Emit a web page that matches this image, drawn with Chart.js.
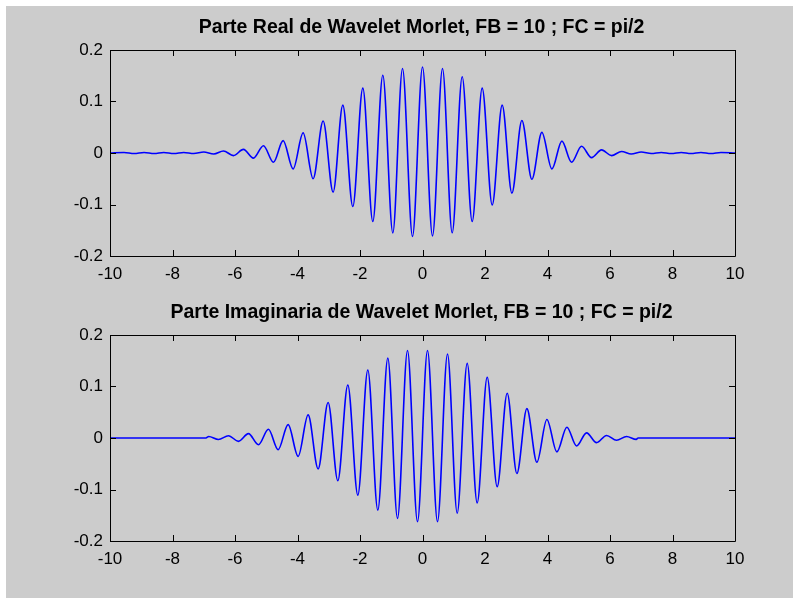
<!DOCTYPE html>
<html>
<head>
<meta charset="utf-8">
<script src="https://cdn.jsdelivr.net/npm/chart.js@4.4.1/dist/chart.umd.min.js"></script>
<style>
    body { margin: 0; background: #ffffff; }
    #figure { position: absolute; left: 6px; top: 6px; width: 787px; height: 592px; background: #cccccc; }
    canvas { position: absolute; left: 0; }
    #real-part { top: 0; }
    #imag-part { top: 285px; }
</style>
</head>
<body>
<div id="figure"></div>
<canvas id="real-part" width="793" height="300"></canvas>
<canvas id="imag-part" width="793" height="300"></canvas>
<script>
// values: extrema of each curve
const realX = [-10, -9.55, -9.23, -8.91, -8.59, -8.28, -7.96, -7.64, -7.32, -7.00, -6.68,
    -6.37, -6.05, -5.73, -5.41, -5.09, -4.77, -4.46, -4.14, -3.82, -3.50,
    -3.18, -2.86, -2.55, -2.23, -1.91, -1.59, -1.27, -0.95, -0.64, -0.32, 0,
    0.32, 0.64, 0.95, 1.27, 1.59, 1.91, 2.23, 2.55, 2.86, 3.18,
    3.50, 3.82, 4.14, 4.46, 4.77, 5.09, 5.41, 5.73, 6.05, 6.37,
    6.68, 7.00, 7.32, 7.64, 7.96, 8.28, 8.59, 8.91, 9.23, 9.55, 10];
const realY = [0, 0.001, -0.001, 0.001, -0.001, 0.001, -0.001, 0.001, -0.001, 0.002, -0.002,
    0.004, -0.005, 0.007, -0.010, 0.014, -0.018, 0.024, -0.031, 0.039, -0.050,
    0.062, -0.076, 0.093, -0.104, 0.126, -0.133, 0.151, -0.155, 0.164, -0.162, 0.167,
    -0.161, 0.164, -0.155, 0.148, -0.133, 0.126, -0.101, 0.093, -0.078, 0.063,
    -0.051, 0.040, -0.031, 0.023, -0.018, 0.013, -0.009, 0.006, -0.005, 0.003,
    -0.002, 0.002, -0.001, 0.001, -0.001, 0.001, -0.001, 0.001, -0.001, 0.001, 0];

const imagX = [-10, -6.93, -6.84, -6.53, -6.21, -5.89, -5.57, -5.25, -4.93, -4.62, -4.30,
    -3.98, -3.66, -3.34, -3.02, -2.71, -2.39, -2.07, -1.75, -1.43, -1.11, -0.80, -0.48, -0.16,
    0.16, 0.48, 0.80, 1.11, 1.43, 1.75, 2.07, 2.39, 2.71, 3.02, 3.34,
    3.66, 3.98, 4.30, 4.62, 4.93, 5.25, 5.57, 5.89, 6.21, 6.53, 6.84, 6.90, 10];
const imagY = [0, 0, 0.003, -0.003, 0.0045, -0.0065, 0.0084, -0.013, 0.017, -0.0227, 0.026,
    -0.0356, 0.045, -0.060, 0.069, -0.083, 0.103, -0.111, 0.132, -0.140, 0.155, -0.156, 0.170, -0.1625,
    0.170, -0.1625, 0.163, -0.146, 0.145, -0.126, 0.118, -0.0945, 0.087, -0.069, 0.057,
    -0.047, 0.036, -0.027, 0.021, -0.0155, 0.010, -0.009, 0.005, -0.0045, 0.003, -0.0026, 0, 0];

const xTicks = [-10, -8, -6, -4, -2, 0, 2, 4, 6, 8, 10];
const yTicks = [-0.2, -0.1, 0, 0.1, 0.2];

const realTitle = 'Parte Real de Wavelet Morlet, FB = 10 ; FC = pi/2';
const imagTitle = 'Parte Imaginaria de Wavelet Morlet, FB = 10 ; FC = pi/2';

// matlab style box with inward ticks on all four sides
const matlabAxes = {
    id: 'matlabAxes',
    afterDraw(chart) {
        const ctx = chart.ctx;
        const a = chart.chartArea;
        const x = chart.scales.x;
        const y = chart.scales.y;
        const len = 6;
        ctx.save();
        ctx.strokeStyle = '#000000';
        ctx.lineWidth = 1;
        ctx.beginPath();
        ctx.rect(Math.round(a.left) + 0.5, Math.round(a.top) + 0.5,
            Math.round(a.right - a.left), Math.round(a.bottom - a.top));
        x.ticks.forEach(t => {
            const px = Math.round(x.getPixelForValue(t.value)) + 0.5;
            ctx.moveTo(px, a.bottom);
            ctx.lineTo(px, a.bottom - len);
            ctx.moveTo(px, a.top);
            ctx.lineTo(px, a.top + len);
        });
        y.ticks.forEach(t => {
            const py = Math.round(y.getPixelForValue(t.value)) + 0.5;
            ctx.moveTo(a.left, py);
            ctx.lineTo(a.left + len, py);
            ctx.moveTo(a.right, py);
            ctx.lineTo(a.right - len, py);
        });
        ctx.stroke();
        ctx.restore();
    }
};

const waveChart = (id, xs, ys, title) => {
    const points = xs.map((v, i) => ({x: v, y: ys[i]}));
    const tickFont = {family: '"Liberation Sans", Arial, sans-serif', size: 17};

    const chartConfig = {
        type: 'line',
        data: {
            datasets: [{
                data: points,
                borderColor: '#0000ff',
                borderWidth: 1.6,
                pointRadius: 0,
                fill: false,
                cubicInterpolationMode: 'monotone'
            }]
        },
        options: {
            responsive: false,
            animation: false,
            layout: {padding: {left: 50, right: 0, top: 0, bottom: 14}},
            plugins: {
                legend: {display: false},
                tooltip: {enabled: false},
                title: {
                    display: true,
                    text: title,
                    color: '#000000',
                    font: {family: '"Liberation Sans", Arial, sans-serif', size: 19.5, weight: 'bold', lineHeight: 1.2},
                    padding: {top: 16, bottom: 10.6}
                }
            },
            scales: {
                x: {
                    type: 'linear',
                    min: -10,
                    max: 10,
                    afterBuildTicks: scale => { scale.ticks = xTicks.map(v => ({value: v})); },
                    afterFit: scale => { scale.height = 30; },
                    grid: {display: false, drawTicks: false, tickLength: 0},
                    border: {display: false},
                    ticks: {color: '#000000', font: tickFont, padding: 8, maxRotation: 0,
                        callback: v => String(v)}
                },
                y: {
                    min: -0.2,
                    max: 0.2,
                    afterBuildTicks: scale => { scale.ticks = yTicks.map(v => ({value: v})); },
                    afterFit: scale => { scale.width = 60; },
                    grid: {display: false, drawTicks: false, tickLength: 0},
                    border: {display: false},
                    ticks: {color: '#000000', font: tickFont, padding: 7,
                        callback: v => String(Math.round(v * 10) / 10)}
                },
                // empty right margin so the title centres over the plot box
                y2: {
                    position: 'right',
                    min: -0.2,
                    max: 0.2,
                    afterFit: scale => { scale.width = 58; },
                    grid: {display: false, drawTicks: false, tickLength: 0},
                    border: {display: false},
                    ticks: {display: false}
                }
            }
        },
        plugins: [matlabAxes]
    };

    const ctx = document.getElementById(id).getContext('2d');
    new Chart(ctx, chartConfig);
};

document.addEventListener('DOMContentLoaded', () => {
    waveChart('real-part', realX, realY, realTitle);
    waveChart('imag-part', imagX, imagY, imagTitle);
});
</script>
</body>
</html>
